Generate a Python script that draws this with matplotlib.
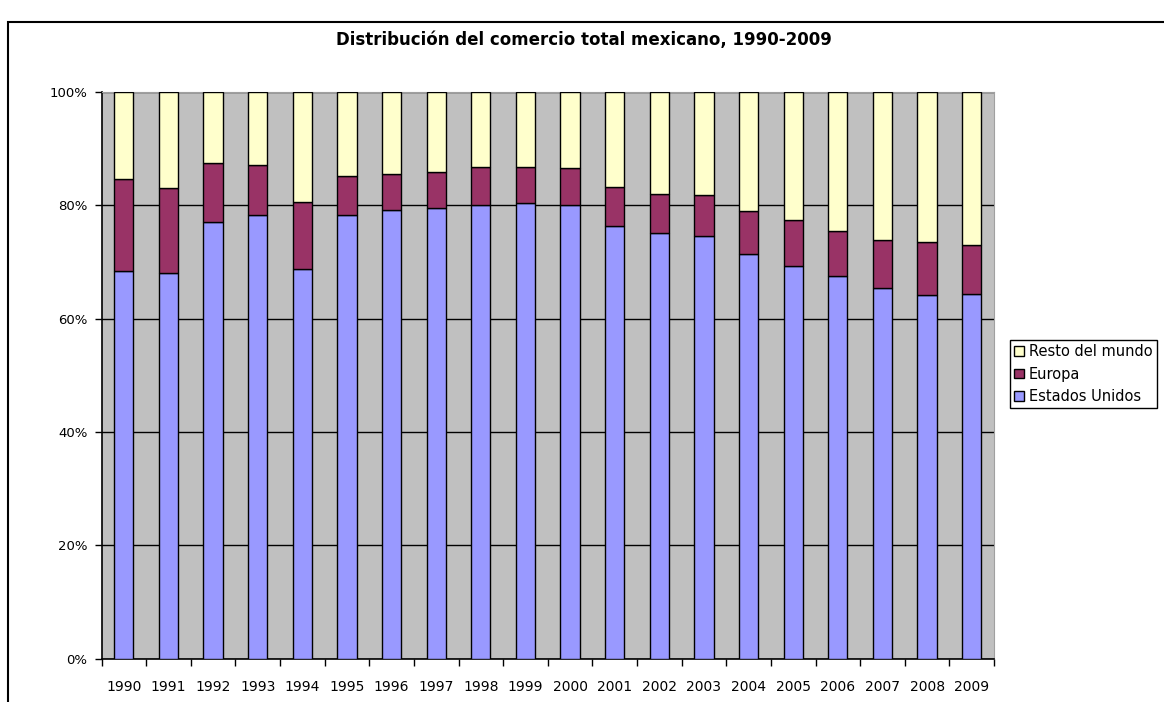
import matplotlib.pyplot as plt
import numpy as np
from matplotlib.patches import Rectangle

plt.rcParams["font.family"] = ["DejaVu Sans"]

years = [str(y) for y in range(1990, 2010)]
# cumulative tops (percent)
usa = [68.4, 68.1, 77.0, 78.3, 68.8, 78.2, 79.2, 79.5, 80.1, 80.4,
       80.1, 76.4, 75.1, 74.5, 71.4, 69.2, 67.5, 65.3, 64.1, 64.4]
europe_top = [84.6, 83.0, 87.4, 87.0, 80.5, 85.2, 85.5, 85.8, 86.7, 86.7,
              86.5, 83.2, 82.0, 81.7, 78.9, 77.3, 75.4, 73.8, 73.5, 72.9]

usa = np.array(usa)
europa = np.array(europe_top) - usa
resto = 100 - np.array(europe_top)

c_usa = "#9999FF"
c_eur = "#993366"
c_rest = "#FFFFCC"

W, H = 1164, 702
fig = plt.figure(figsize=(W / 100, H / 100), dpi=100)
ax = fig.add_axes([101.5 / W, 1 - 658.7 / H, (994 - 101.5) / W, (658.7 - 91.7) / H])

# chart frame
fig.patches.append(Rectangle((8 / W, -0.1), 1.2, 1 - 22 / H + 0.1, transform=fig.transFigure,
                             fill=False, edgecolor="black", linewidth=1.5))

x = np.arange(len(years))
w = 0.43
ax.set_facecolor("#C0C0C0")
ax.bar(x, usa, w, color=c_usa, edgecolor="black", linewidth=1, label="Estados Unidos", zorder=3)
ax.bar(x, europa, w, bottom=usa, color=c_eur, edgecolor="black", linewidth=1, label="Europa", zorder=3)
ax.bar(x, resto, w, bottom=usa + europa, color=c_rest, edgecolor="black", linewidth=1,
       label="Resto del mundo", zorder=3)

ax.set_xlim(-0.5, len(years) - 0.5)
ax.set_ylim(0, 100)
ax.set_yticks(np.arange(0, 101, 20))
ax.set_yticklabels([f"{v}%" for v in range(0, 101, 20)], fontsize=9.5)
ax.yaxis.grid(True, color="black", linewidth=1, zorder=1)
ax.set_axisbelow(True)

ax.set_xticks(x)
ax.set_xticklabels(years, fontsize=10)
ax.set_xticks(np.arange(-0.5, len(years), 1), minor=True)
ax.tick_params(axis="x", which="major", length=0, pad=15)
ax.tick_params(axis="x", which="minor", length=5, width=1, direction="out")
ax.tick_params(axis="y", length=5, width=1, direction="out", pad=5)

for s in ["top", "right"]:
    ax.spines[s].set_color("#A0A0A0")
ax.spines["left"].set_linewidth(1.2)
ax.spines["bottom"].set_linewidth(1.2)

fig.text(584 / W, 1 - 40 / H, "Distribución del comercio total mexicano, 1990-2009",
         ha="center", va="center", fontsize=12, fontweight="bold")

handles, labels = ax.get_legend_handles_labels()
leg = fig.legend(handles[::-1], labels[::-1], loc="upper left",
                 bbox_to_anchor=(1010 / W, 1 - 340 / H), fontsize=10.5,
                 frameon=True, fancybox=False, edgecolor="black", framealpha=1,
                 handlelength=0.65, handleheight=0.65, handletextpad=0.35,
                 labelspacing=0.5, borderpad=0.3, borderaxespad=0)
leg.get_frame().set_linewidth(1)

fig.savefig("out.png", dpi=100)
